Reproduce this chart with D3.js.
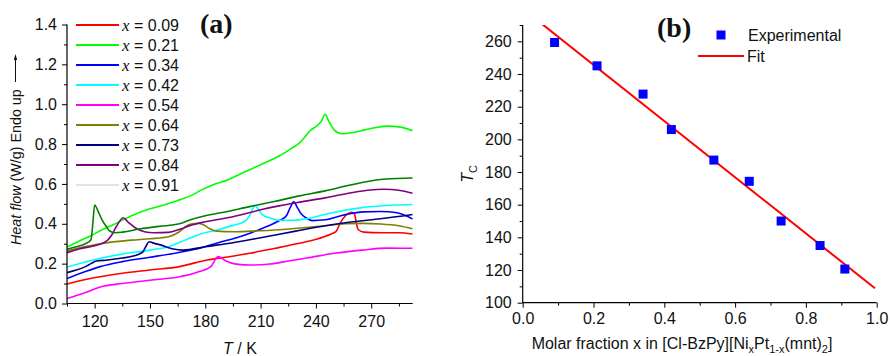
<!DOCTYPE html>
<html><head><meta charset="utf-8">
<script src="https://cdn.jsdelivr.net/npm/d3@7"></script>
<style>
body{margin:0;background:#fff}
svg{display:block;font-family:"Liberation Sans",Arial,sans-serif}
</style></head>
<body>
<svg id="c" width="891" height="356"></svg>
<script>
// ---------- Panel (a) data: DSC heat-flow curves [T (K), heat flow (W/g)] ----------
const seriesLabels = ["0.09","0.21","0.34","0.42","0.54","0.64","0.73","0.84","0.91"];
const seriesColors = ["#ff0000","#00ff00","#0000ff","#00ffff","#ff00ff","#808000","#000080","#800080","#008000"];
const s009 = [[105,0.098],[115,0.12],[123,0.134],[135,0.152],[150,0.168],[166,0.185],[175,0.205],[181,0.218],[193,0.235],[204,0.252],[218,0.277],[231,0.302],[240,0.322],[248,0.348],[251,0.362],[253,0.40],[256,0.44],[259.5,0.458],[261,0.447],[262,0.40],[263,0.37],[266,0.358],[275,0.355],[285,0.355],[292.5,0.349]];
const s021 = [[105,0.283],[112,0.315],[118,0.34],[123,0.365],[130,0.395],[140,0.44],[150,0.475],[158,0.495],[166,0.52],[172,0.54],[178,0.57],[184,0.595],[192,0.62],[199,0.65],[205,0.675],[212,0.705],[220,0.74],[227,0.78],[231,0.805],[234,0.835],[237,0.868],[241,0.895],[243,0.915],[245,0.95],[247,0.915],[250,0.87],[254,0.852],[260,0.858],[266,0.87],[272,0.882],[279,0.89],[286,0.885],[292.5,0.867]];
const s034 = [[105,0.125],[115,0.16],[123,0.185],[135,0.21],[150,0.232],[165,0.255],[177,0.277],[187,0.305],[197,0.33],[205,0.355],[213,0.385],[220,0.415],[224,0.44],[226,0.48],[228,0.51],[230,0.48],[232,0.45],[235,0.428],[238,0.416],[245,0.42],[256,0.446],[266,0.46],[275,0.462],[284,0.455],[292.5,0.424]];
const s042 = [[105,0.183],[115,0.208],[123,0.227],[135,0.248],[150,0.268],[160,0.285],[169,0.318],[177,0.348],[187,0.37],[195,0.392],[201,0.41],[204,0.44],[206,0.48],[207,0.492],[208.5,0.475],[211,0.445],[215,0.43],[220,0.418],[228,0.418],[235,0.425],[247,0.452],[265,0.481],[283,0.494],[292.5,0.497]];
const s054 = [[105,0.025],[115,0.055],[123,0.083],[135,0.100],[150,0.117],[166,0.134],[176,0.158],[183,0.185],[187,0.236],[191,0.215],[196,0.199],[205,0.193],[215,0.198],[225,0.213],[235,0.228],[250,0.252],[265,0.268],[278,0.278],[292.5,0.277]];
const s064 = [[105,0.265],[112,0.28],[123,0.3],[140,0.318],[150,0.325],[160,0.335],[166,0.36],[170,0.39],[173,0.4],[176,0.403],[179,0.395],[182,0.378],[186,0.363],[195,0.36],[205,0.363],[220,0.37],[233,0.38],[245,0.39],[256,0.4],[265,0.402],[275,0.399],[285,0.39],[292.5,0.375]];
const s073 = [[105,0.155],[110,0.168],[115,0.185],[118,0.2],[121,0.213],[127,0.218],[135,0.228],[141,0.238],[146,0.258],[148,0.29],[149.5,0.31],[152,0.303],[156,0.293],[162,0.275],[168,0.268],[180,0.285],[195,0.305],[210,0.33],[229,0.363],[245,0.39],[256,0.405],[275,0.425],[292.5,0.447]];
const s084 = [[105,0.255],[112,0.275],[120,0.29],[126,0.31],[129,0.34],[132,0.39],[135.5,0.43],[138,0.41],[142,0.38],[147,0.36],[152,0.355],[160,0.357],[166,0.372],[172,0.392],[180,0.41],[195,0.435],[210,0.47],[220,0.49],[232,0.51],[245,0.53],[257,0.552],[268,0.568],[277,0.573],[285,0.568],[292.5,0.553]];
const s091 = [[105,0.272],[110,0.285],[115,0.3],[118,0.32],[119,0.40],[120,0.494],[122,0.46],[124,0.42],[126,0.39],[128,0.365],[131,0.355],[135,0.358],[145,0.375],[155,0.387],[166,0.4],[172,0.42],[180,0.44],[190,0.458],[204,0.486],[218,0.513],[231,0.54],[245,0.565],[258,0.593],[268,0.612],[278,0.625],[292.5,0.63]];
const seriesData = [s009,s021,s034,s042,s054,s064,s073,s084,s091];
const aXTicks = [120,150,180,210,240,270];
const aYTicks = [0.0,0.2,0.4,0.6,0.8,1.0,1.2,1.4];

// ---------- Panel (b) data ----------
const bX = [0.09,0.21,0.34,0.42,0.54,0.64,0.73,0.84,0.91];
const bTc = [259.3,245,227.7,206,187.3,174.3,150,135,120.6];
const fitIntercept = 280;
const fitSlope = -172;
const bXTicks = [0.0,0.2,0.4,0.6,0.8,1.0];
const bYTicks = [100,120,140,160,180,200,220,240,260];

const svg = d3.select("#c");
const FS = 16;

// ===== Panel (a) =====
const ax = d3.scaleLinear().domain([105,292.5]).range([67,412.7]);
const ay = d3.scaleLinear().domain([0,1.4]).range([303.5,24.5]);

const ga = svg.append("g");
ga.append("defs").append("clipPath").attr("id","clipA")
  .append("rect").attr("x",67).attr("y",10).attr("width",412.7-67).attr("height",303.5-10);

const line = d3.line().x(d=>ax(d[0])).y(d=>ay(d[1])).curve(d3.curveMonotoneX);
const curves = ga.append("g").attr("clip-path","url(#clipA)");
seriesData.forEach((s,i)=>{
  curves.append("path").attr("d",line(s)).attr("fill","none")
    .attr("stroke",seriesColors[i]).attr("stroke-width",1.6).attr("stroke-linejoin","round");
});

// axes (a)
const axA = ga.append("g").attr("transform","translate(0,303.5)")
  .call(d3.axisBottom(ax).tickValues(aXTicks).tickSize(5).tickPadding(7).tickFormat(d3.format("d")));
const axAm = ga.append("g").attr("transform","translate(0,303.5)")
  .call(d3.axisBottom(ax).tickValues(aXTicks.map(d=>d+15).filter(d=>d<292.5).concat([105])).tickSize(3).tickFormat(""));
const ayA = ga.append("g").attr("transform","translate(67,0)")
  .call(d3.axisLeft(ay).tickValues(aYTicks).tickSize(5).tickPadding(5).tickFormat(d3.format(".1f")));
const ayAm = ga.append("g").attr("transform","translate(67,0)")
  .call(d3.axisLeft(ay).tickValues(aYTicks.slice(0,-1).map(d=>d+0.1)).tickSize(3).tickFormat(""));
[axA,axAm,ayA,ayAm].forEach(g=>{
  g.select(".domain").remove();
  g.selectAll("line").attr("stroke","#000").attr("stroke-width",1);
  g.selectAll("text").attr("font-size",FS).attr("font-family","Liberation Sans, Arial, sans-serif").attr("fill","#111");
});
ga.append("line").attr("x1",67).attr("x2",412.7).attr("y1",303.5).attr("y2",303.5).attr("stroke","#000").attr("stroke-width",1.2);
ga.append("line").attr("x1",67).attr("x2",67).attr("y1",24.5).attr("y2",303.5).attr("stroke","#000").attr("stroke-width",1.2);

// legend (a)
seriesLabels.forEach((lab,i)=>{
  const y = 25 + i*20;
  const last = i===seriesLabels.length-1;
  ga.append("line").attr("x1",76).attr("x2",119).attr("y1",y).attr("y2",y)
    .attr("stroke", last ? "#b8d4b8" : seriesColors[i]).attr("stroke-width", last?1:1.8);
  const t = ga.append("text").attr("x",122).attr("y",y).attr("dy","0.35em").attr("font-size",FS).attr("fill","#111");
  t.append("tspan").attr("font-family","Liberation Serif, Times New Roman, serif").attr("font-style","italic").attr("font-size",17).text("x");
  t.append("tspan").text(" = "+lab);
});

// labels (a)
const yl = ga.append("text").attr("transform","translate(21,245) rotate(-90)").attr("font-size",14.3).attr("fill","#111");
yl.append("tspan").attr("font-style","italic").text("Heat flow");
yl.append("tspan").text(" (W/g) Endo up");
ga.append("line").attr("x1",15.5).attr("x2",15.5).attr("y1",82).attr("y2",57).attr("stroke","#111").attr("stroke-width",1);
ga.append("path").attr("d","M15.5,54 L13.8,60 L17.2,60 Z").attr("fill","#111");

const xl = ga.append("text").attr("x",240).attr("y",354).attr("text-anchor","middle").attr("font-size",FS).attr("fill","#111");
xl.append("tspan").attr("font-style","italic").text("T");
xl.append("tspan").text(" / K");

ga.append("text").attr("x",200).attr("y",33).attr("font-family","Liberation Serif, Times New Roman, serif")
  .attr("font-weight","bold").attr("font-size",28).attr("fill","#111").text("(a)");

// ===== Panel (b) =====
const bx = d3.scaleLinear().domain([0,1]).range([522.7,876.7]);
const by = d3.scaleLinear().domain([100,270]).range([302.7,25]);
const gb = svg.append("g");
gb.append("defs").append("clipPath").attr("id","clipB")
  .append("rect").attr("x",522.7).attr("y",25).attr("width",876.7-522.7).attr("height",302.7-25);

const fitLine = d3.line().x(d=>bx(d)).y(d=>by(fitIntercept+fitSlope*d));
gb.append("path").attr("d",fitLine([0,0.995])).attr("clip-path","url(#clipB)")
  .attr("fill","none").attr("stroke","#ff0000").attr("stroke-width",2);

const sq = 9;
gb.selectAll("rect.pt").data(bX).join("rect").attr("class","pt")
  .attr("x",(d)=>bx(d)-sq/2).attr("y",(d,i)=>by(bTc[i])-sq/2).attr("width",sq).attr("height",sq).attr("fill","#0000ff");

const bxA = gb.append("g").attr("transform","translate(0,302.7)")
  .call(d3.axisBottom(bx).tickValues(bXTicks).tickSize(5).tickPadding(5).tickFormat(d3.format(".1f")));
const bxAm = gb.append("g").attr("transform","translate(0,302.7)")
  .call(d3.axisBottom(bx).tickValues(bXTicks.slice(0,-1).map(d=>d+0.1)).tickSize(3).tickFormat(""));
const byA = gb.append("g").attr("transform","translate(522.7,0)")
  .call(d3.axisLeft(by).tickValues(bYTicks).tickSize(5).tickPadding(6).tickFormat(d3.format("d")));
const byAm = gb.append("g").attr("transform","translate(522.7,0)")
  .call(d3.axisLeft(by).tickValues(bYTicks.map(d=>d+10)).tickSize(3).tickFormat(""));
[bxA,bxAm,byA,byAm].forEach(g=>{
  g.select(".domain").remove();
  g.selectAll("line").attr("stroke","#000").attr("stroke-width",1);
  g.selectAll("text").attr("font-size",FS).attr("font-family","Liberation Sans, Arial, sans-serif").attr("fill","#111");
});
gb.append("line").attr("x1",522.7).attr("x2",876.7).attr("y1",302.7).attr("y2",302.7).attr("stroke","#000").attr("stroke-width",1.2);
gb.append("line").attr("x1",522.7).attr("x2",522.7).attr("y1",25).attr("y2",302.7).attr("stroke","#000").attr("stroke-width",1.2);

// legend (b)
gb.append("rect").attr("x",721-sq/2).attr("y",35-sq/2).attr("width",sq).attr("height",sq).attr("fill","#0000ff");
gb.append("text").attr("x",748).attr("y",35).attr("dy","0.35em").attr("font-size",FS).attr("fill","#111").text("Experimental");
gb.append("line").attr("x1",698).attr("x2",744).attr("y1",56).attr("y2",56).attr("stroke","#ff0000").attr("stroke-width",2);
gb.append("text").attr("x",747).attr("y",56).attr("dy","0.35em").attr("font-size",FS).attr("fill","#111").text("Fit");

gb.append("text").attr("x",657).attr("y",37).attr("font-family","Liberation Serif, Times New Roman, serif")
  .attr("font-weight","bold").attr("font-size",28).attr("fill","#111").text("(b)");

// y label (b)
const tl = gb.append("text").attr("transform","translate(473,174) rotate(-90)").attr("text-anchor","middle").attr("font-size",FS).attr("fill","#111");
tl.append("tspan").attr("font-style","italic").text("T");
tl.append("tspan").attr("font-size",11).attr("dy",4).text("C");

// x label (b)
const bl = gb.append("text").attr("x",682).attr("y",349).attr("text-anchor","middle").attr("font-size",FS).attr("fill","#111");
bl.append("tspan").text("Molar fraction x in [Cl-BzPy][Ni");
bl.append("tspan").attr("font-size",11).attr("dy",4).text("x");
bl.append("tspan").attr("dy",-4).text("Pt");
bl.append("tspan").attr("font-size",11).attr("dy",4).text("1-x");
bl.append("tspan").attr("dy",-4).text("(mnt)");
bl.append("tspan").attr("font-size",11).attr("dy",4).text("2");
bl.append("tspan").attr("dy",-4).text("]");
</script>
</body></html>
